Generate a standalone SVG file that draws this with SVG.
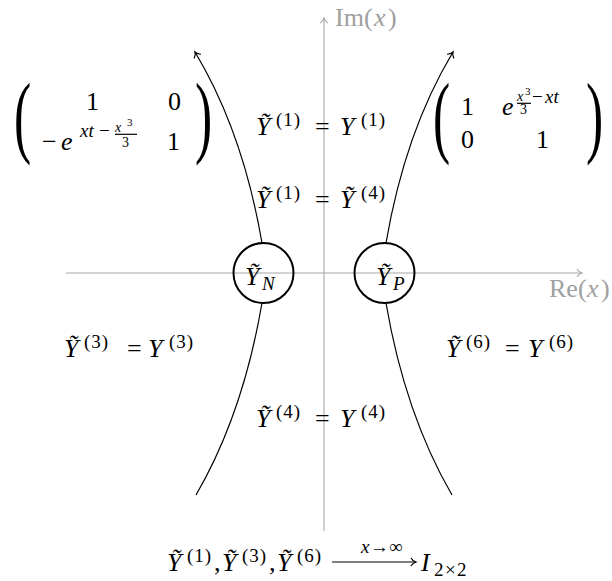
<svg xmlns="http://www.w3.org/2000/svg" width="612" height="581" viewBox="0 0 612 581" font-family="'Liberation Serif', 'Times New Roman', serif">
<style>
svg, text, tspan { font-family: "Liberation Serif", "Times New Roman", serif; }
text { font-size: 26px; fill: #000; }
.i { font-style: italic; }
.s { font-size: 19px; }
.sp { font-size: 19px; letter-spacing: 1px; }
.ss { font-size: 14px; }
.sss { font-size: 11px; }
.g { fill: #a0a0a0; }
.ax { stroke: #a8a8a8; stroke-width: 1.1; fill: none; }
.cv { stroke: #000; stroke-width: 1.2; fill: none; }
.nd { stroke: #000; stroke-width: 2; fill: none; }
.par { font-size: 92px; }
</style>
<defs>
<marker id="ag" markerUnits="userSpaceOnUse" markerWidth="14" markerHeight="14" viewBox="-8 -7 14 14" refX="0" refY="0" orient="auto" overflow="visible">
<path d="M-5,-4 C-4,-2 -1.5,-0.5 0,0 C-1.5,0.5 -4,2 -5,4" fill="none" stroke="#a8a8a8" stroke-width="1.1"/>
</marker>
<marker id="ab" markerUnits="userSpaceOnUse" markerWidth="14" markerHeight="14" viewBox="-8 -7 14 14" refX="0" refY="0" orient="auto" overflow="visible">
<path d="M-5,-4 C-4,-2 -1.5,-0.5 0,0 C-1.5,0.5 -4,2 -5,4" fill="none" stroke="#000" stroke-width="1.2"/>
</marker>
</defs>

<g id="axes">
<line class="ax" x1="66" y1="273" x2="582" y2="273" marker-end="url(#ag)"/>
<line class="ax" x1="324" y1="531" x2="324" y2="18" marker-end="url(#ag)"/>
<text class="g"><tspan x="335" y="26">Im</tspan><tspan x="364" y="26">(</tspan><tspan class="i" x="374" y="26">x</tspan><tspan x="388" y="26">)</tspan></text>
<text class="g"><tspan x="549" y="297">Re</tspan><tspan x="578" y="297">(</tspan><tspan class="i" x="587" y="297">x</tspan><tspan x="601" y="297">)</tspan></text>
</g>

<g id="connectors">
<path class="cv" d="M262,243 Q243,132 195,52" marker-end="url(#ab)"/>
<path class="cv" d="M386,243 Q405,132 453,52" marker-end="url(#ab)"/>
<path class="cv" d="M262,303 Q243,414 196,495"/>
<path class="cv" d="M386,303 Q405,414 452,495"/>
</g>

<g id="node-YN">
<circle class="nd" cx="263.5" cy="273" r="30"/>
<text><tspan class="i" x="245" y="285">Ỹ</tspan><tspan class="i s" x="262" y="290">N</tspan></text>
</g>
<g id="node-YP">
<circle class="nd" cx="384.5" cy="273" r="30"/>
<text><tspan class="i" x="376" y="285">Ỹ</tspan><tspan class="i s" x="393" y="290">P</tspan></text>
</g>

<g id="matrix-left">
<text class="par" transform="translate(14,145.6) scale(0.56,1)">(</text>
<text x="86" y="110">1</text>
<text x="168" y="110">0</text>
<text x="42" y="150">−</text>
<text class="i" x="61" y="150">e</text>
<text class="s"><tspan class="i" x="80" y="137">xt</tspan><tspan x="99" y="137">−</tspan></text>
<text class="ss i" x="115" y="132">x</text>
<text class="sss" x="127" y="126">3</text>
<line x1="115" y1="134.3" x2="137" y2="134.3" stroke="#000" stroke-width="1.2"/>
<text class="ss" x="122" y="147">3</text>
<text x="167" y="150">1</text>
<text class="par" transform="translate(195,145.6) scale(0.56,1)">)</text>
</g>

<g id="matrix-right">
<text class="par" transform="translate(433,145.6) scale(0.56,1)">(</text>
<text x="461" y="115">1</text>
<text class="i" x="502" y="115">e</text>
<text class="ss i" x="517" y="101">x</text>
<text class="sss" x="525" y="95">3</text>
<line x1="517" y1="103.3" x2="531" y2="103.3" stroke="#000" stroke-width="1.2"/>
<text class="ss" x="520" y="114">3</text>
<text class="s"><tspan x="532" y="103">−</tspan><tspan class="i" x="545" y="103">xt</tspan></text>
<text x="461" y="148">0</text>
<text x="536" y="148">1</text>
<text class="par" transform="translate(586,145.6) scale(0.56,1)">)</text>
</g>

<g id="labels">
<text><tspan class="i" x="256" y="135">Ỹ</tspan><tspan class="sp" x="276" y="126">(1)</tspan><tspan x="315" y="135">=</tspan><tspan class="i" x="340" y="135">Y</tspan><tspan class="sp" x="361" y="126">(1)</tspan></text>
<text><tspan class="i" x="256" y="208">Ỹ</tspan><tspan class="sp" x="276" y="199">(1)</tspan><tspan x="315" y="208">=</tspan><tspan class="i" x="340" y="208">Ỹ</tspan><tspan class="sp" x="361" y="199">(4)</tspan></text>
<text><tspan class="i" x="64" y="357">Ỹ</tspan><tspan class="sp" x="84" y="348">(3)</tspan><tspan x="127" y="357">=</tspan><tspan class="i" x="148" y="357">Y</tspan><tspan class="sp" x="169" y="348">(3)</tspan></text>
<text><tspan class="i" x="446" y="357">Ỹ</tspan><tspan class="sp" x="466" y="348">(6)</tspan><tspan x="505" y="357">=</tspan><tspan class="i" x="528" y="357">Y</tspan><tspan class="sp" x="549" y="348">(6)</tspan></text>
<text><tspan class="i" x="256" y="427">Ỹ</tspan><tspan class="sp" x="276" y="418">(4)</tspan><tspan x="315" y="427">=</tspan><tspan class="i" x="340" y="427">Y</tspan><tspan class="sp" x="361" y="418">(4)</tspan></text>
</g>

<g id="limit">
<text><tspan class="i" x="167" y="571">Ỹ</tspan><tspan class="sp" x="187" y="562">(1)</tspan><tspan x="214" y="571">,</tspan><tspan class="i" x="222" y="571">Ỹ</tspan><tspan class="sp" x="242" y="562">(3)</tspan><tspan x="269" y="571">,</tspan><tspan class="i" x="277" y="571">Ỹ</tspan><tspan class="sp" x="297" y="562">(6)</tspan></text>
<line x1="332" y1="562" x2="416" y2="562" stroke="#000" stroke-width="1.1" marker-end="url(#ab)"/>
<text class="s"><tspan class="i" x="361" y="553">x</tspan><tspan x="370" y="553">→</tspan><tspan x="389" y="553">∞</tspan></text>
<text><tspan class="i" x="421" y="571">I</tspan><tspan class="s" x="434" y="576">2</tspan><tspan class="s" x="445" y="576">×</tspan><tspan class="s" x="457" y="576">2</tspan></text>
</g>
</svg>
